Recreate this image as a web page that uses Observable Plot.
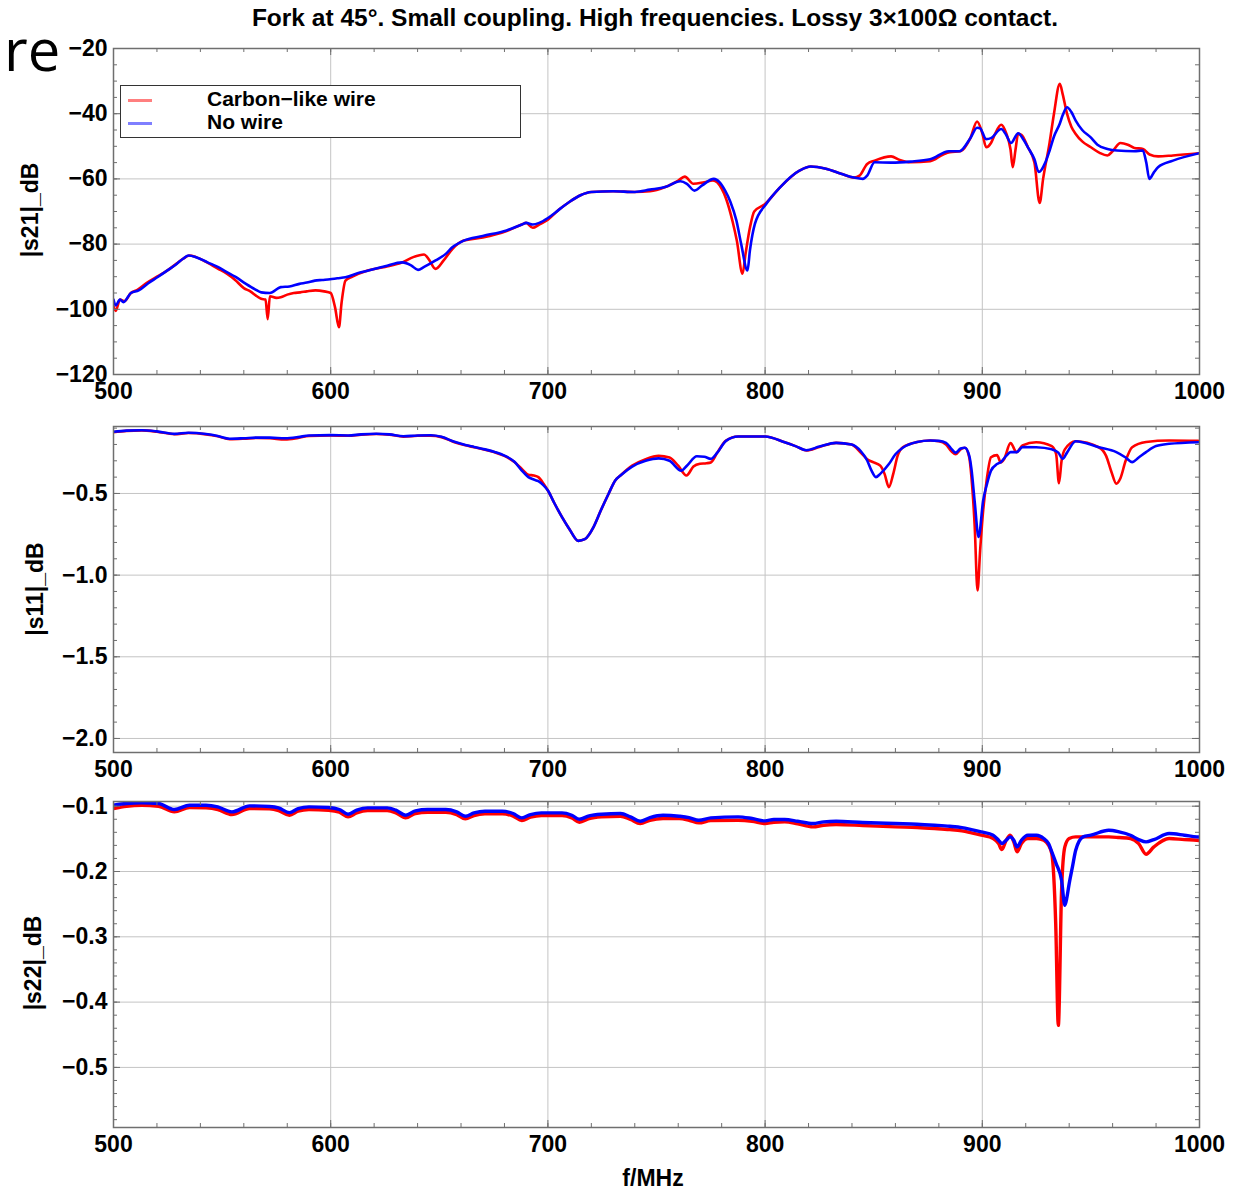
<!DOCTYPE html>
<html><head><meta charset="utf-8">
<script src="https://cdn.jsdelivr.net/npm/d3@7"></script>
<script src="https://cdn.jsdelivr.net/npm/@observablehq/plot@0.6"></script>
<style>
body{margin:0;background:#fff;}
#wrap{position:relative;width:1235px;height:1190px;overflow:hidden;background:#fff;font-family:"Liberation Sans",Arial,sans-serif;}
.abs{position:absolute;white-space:nowrap;}
svg{position:absolute;left:0;}
</style></head><body>
<div id="wrap"></div>
<script>
// ---------- DATA ----------
const title = "Fork at 45°. Small coupling. High frequencies. Lossy 3×100Ω contact.";
const seriesNames = ["Carbon\u2212like wire", "No wire"];
const seriesColors = ["#ff0000", "#0000ff"];
const xTicks = [500, 600, 700, 800, 900, 1000];
const s21Ticks = [-120, -100, -80, -60, -40, -20];
const s11Ticks = [-2.0, -1.5, -1.0, -0.5];
const s22Ticks = [-0.5, -0.4, -0.3, -0.2, -0.1];
const yLabels = ["|s21|_dB", "|s11|_dB", "|s22|_dB"];
const xLabel = "f/MHz";

// |s21| (dB) — [f MHz, value]
const s21Carbon = [[500,-99],[501,-100.5],[503,-97],[505,-97.5],[508,-95],[511,-94],[515,-92],[520,-90],[525,-88],[529,-86],[532,-84.5],[535,-83.5],[538,-84],[543,-85.6],[548,-87.5],[552,-89],[556,-91],[560,-93.5],[563,-94.5],[566,-96],[568,-96.8],[570,-97],[571,-103],[572,-96],[575,-96.5],[577,-96.3],[580,-95.5],[583,-95],[586,-94.8],[589,-94.5],[593,-94.2],[597,-94.5],[600,-95],[602,-99.4],[603.8,-105.5],[605,-98],[606.8,-91.2],[610,-90],[617,-88.1],[625,-87],[633,-85.6],[638,-84],[643,-83.2],[645,-84.5],[648.3,-87.6],[652,-85],[656,-81.5],[661,-79],[670,-78],[681,-76],[688,-74],[690,-73.5],[693,-75],[696,-74],[700,-72.5],[705,-69.5],[710,-67],[715,-65],[720,-64],[730,-63.8],[740,-64],[747,-63.8],[754,-62.5],[760,-60.5],[763,-59.3],[767,-61.5],[772,-61],[776,-60.5],[780,-63],[782,-66],[785,-73],[787,-79],[789.6,-89.1],[791,-83],[793,-75],[795,-70],[800,-67.7],[807,-62.5],[816,-57.4],[821,-56.2],[828,-56.9],[835,-58.4],[841,-59.6],[843.5,-59],[847,-55.4],[850.4,-54.4],[858,-53.1],[862,-54.2],[867,-54.9],[876,-54.6],[882,-52.5],[885,-51.8],[890,-51.5],[894.5,-47.5],[897.6,-42.4],[900,-46],[901.8,-50.3],[904,-49],[906,-46],[908.7,-43.4],[911,-46],[913,-51],[914,-56.4],[915.3,-51],[916.5,-46.2],[918,-46.5],[921,-50.3],[924,-55],[926.4,-67.4],[928,-60],[931,-48.8],[933,-40],[935.7,-30.8],[937,-34],[939,-40],[941,-44],[943,-46.2],[946,-48.5],[950,-50.3],[954,-52],[957.6,-52.8],[960,-51.5],[963.6,-49],[967,-49.5],[970,-50.5],[974,-50.8],[977,-52.5],[981,-53.1],[987.8,-52.8],[1000,-52.1]];
const s21NoWire = [[500,-97],[501,-98.8],[503,-97],[504.6,-97.8],[508,-95],[511.6,-94.2],[516,-92],[520.4,-90.1],[525,-88],[529.2,-86],[532,-84.5],[534.5,-83.5],[538,-84],[543.3,-85.6],[548,-87],[552.2,-88.6],[556,-90],[561,-92.2],[565,-93.8],[568,-94.8],[572,-95],[577,-93.2],[581,-93],[585.6,-92.2],[589,-91.8],[592.7,-91.2],[596,-91],[599.7,-90.8],[603,-90.5],[606.8,-90.2],[612,-89],[617.4,-88.1],[625,-86.8],[633,-85.6],[637,-86.5],[640.2,-87.9],[643,-87],[648.3,-85],[653,-83],[656,-81],[661,-79],[670,-77.5],[681,-75.8],[688,-74],[690,-73.5],[693,-74],[696,-73.5],[700,-72],[705,-69.5],[710,-67],[715,-65],[720,-64],[730,-63.8],[740,-64],[747,-63.3],[754,-62.5],[761,-60.7],[764,-61.5],[767.5,-63.6],[771,-62],[776.4,-60],[779,-61],[781.6,-63.6],[784,-67],[786.8,-72.8],[789,-80],[791.9,-88.1],[793,-82],[795.3,-73.8],[800.5,-67.7],[807,-62.5],[816,-57.4],[821,-56.2],[828,-56.9],[835,-58.4],[841,-59.6],[845,-60],[847,-59],[850.4,-54.9],[858,-55],[867,-54.7],[876,-54],[884.6,-51.5],[889.5,-51.5],[894.5,-47.5],[897.6,-44.3],[899,-44.5],[901.8,-47.8],[904,-47.5],[908.7,-44.7],[911,-46.5],[913.2,-49],[916.5,-46],[919,-48],[921,-50.3],[924,-54],[926,-57.9],[929,-55],[931,-51.3],[933,-47],[935.7,-43],[937,-40.5],[939,-38],[941,-39.5],[943,-42.1],[946,-45],[949.8,-47.2],[953,-49.5],[957.6,-50.8],[962,-51.3],[970,-51.5],[973.9,-51.3],[975.5,-55],[976.9,-60],[979,-58],[980.9,-56.4],[987.8,-54.4],[1000,-52.1]];

// |s11| (dB)
const s11Carbon = [[500,-0.125],[506,-0.117],[513,-0.114],[520,-0.122],[528,-0.137],[534.5,-0.13],[542.6,-0.138],[548,-0.15],[553.5,-0.168],[560,-0.165],[566,-0.16],[572,-0.162],[579,-0.17],[585,-0.16],[590,-0.148],[600,-0.145],[608,-0.147],[614,-0.14],[621,-0.136],[627,-0.14],[633.5,-0.152],[640,-0.147],[646,-0.146],[651,-0.155],[657,-0.186],[662,-0.205],[666,-0.217],[671,-0.232],[675.5,-0.248],[680,-0.27],[684.6,-0.308],[688,-0.35],[691,-0.385],[693.5,-0.39],[695.6,-0.40],[698,-0.44],[700,-0.482],[703,-0.56],[706.5,-0.645],[710,-0.72],[714,-0.79],[717,-0.78],[721,-0.706],[724.5,-0.6],[728,-0.5],[731,-0.42],[733.4,-0.39],[738.8,-0.33],[745,-0.29],[751,-0.27],[756,-0.28],[760,-0.33],[763.8,-0.39],[767,-0.335],[770,-0.318],[773,-0.315],[775,-0.31],[778,-0.25],[782,-0.176],[787.6,-0.151],[800,-0.151],[809,-0.186],[814,-0.21],[819,-0.237],[825,-0.215],[832.7,-0.19],[839.8,-0.2],[844,-0.25],[847,-0.29],[850,-0.31],[853,-0.33],[855,-0.38],[857,-0.461],[859,-0.38],[861,-0.27],[863.4,-0.217],[870,-0.185],[876,-0.176],[880,-0.18],[883.3,-0.2],[886,-0.245],[887.7,-0.26],[890,-0.23],[892,-0.22],[894,-0.28],[895,-0.4],[896.5,-0.7],[897.8,-1.094],[899,-0.85],[900.4,-0.604],[902,-0.42],[904,-0.278],[906.8,-0.265],[908.5,-0.31],[910,-0.29],[913,-0.192],[915.8,-0.247],[918.5,-0.206],[924.8,-0.186],[932,-0.21],[934,-0.26],[935.3,-0.437],[936.5,-0.3],[938,-0.23],[943,-0.18],[953.6,-0.217],[957,-0.27],[959.5,-0.37],[961.7,-0.44],[963.5,-0.41],[966,-0.3],[969,-0.217],[975.4,-0.185],[986,-0.176],[999.5,-0.178]];
const s11NoWire = [[500,-0.122],[506,-0.115],[513,-0.113],[520,-0.12],[528,-0.135],[534.5,-0.128],[542.6,-0.136],[548,-0.148],[553.5,-0.165],[560,-0.162],[566,-0.158],[572,-0.158],[579,-0.162],[585,-0.155],[590,-0.145],[600,-0.143],[608,-0.145],[614,-0.138],[621,-0.134],[627,-0.138],[633.5,-0.15],[640,-0.145],[646,-0.144],[651,-0.153],[657,-0.184],[662,-0.203],[666,-0.215],[671,-0.23],[675.5,-0.246],[680,-0.268],[684.6,-0.306],[688,-0.36],[691,-0.40],[693.5,-0.415],[695.6,-0.425],[698,-0.45],[700,-0.482],[703,-0.56],[706.5,-0.645],[710,-0.72],[714,-0.79],[717,-0.78],[721,-0.706],[724.5,-0.6],[728,-0.5],[731,-0.42],[733.4,-0.39],[738.8,-0.335],[745,-0.3],[751,-0.285],[756,-0.3],[761.4,-0.36],[764,-0.33],[768.6,-0.272],[772,-0.275],[775,-0.288],[778,-0.25],[782,-0.178],[787.6,-0.151],[800,-0.151],[809,-0.186],[814,-0.21],[819,-0.235],[825,-0.213],[832.7,-0.19],[839.8,-0.2],[844,-0.24],[847,-0.298],[849,-0.36],[851,-0.40],[853,-0.38],[857,-0.32],[860,-0.26],[863.4,-0.22],[870,-0.185],[876,-0.176],[880,-0.178],[883.3,-0.19],[886,-0.23],[887.7,-0.25],[890,-0.225],[892,-0.22],[894,-0.27],[895,-0.35],[896.5,-0.55],[898.3,-0.767],[900.4,-0.543],[902,-0.45],[904,-0.36],[906.8,-0.32],[908.5,-0.308],[911,-0.27],[913,-0.247],[915.8,-0.247],[918.5,-0.216],[924.8,-0.217],[932,-0.23],[935,-0.25],[937,-0.288],[939,-0.25],[943,-0.18],[953.6,-0.217],[961.7,-0.247],[966,-0.28],[969,-0.308],[972,-0.28],[975.4,-0.247],[980,-0.21],[986,-0.196],[999.5,-0.186]];

// |s22| (dB)
const s22Carbon = [[500,-0.1036],[506,-0.1],[513,-0.0985],[520.7,-0.1],[528,-0.1087],[535,-0.102],[542.6,-0.1026],[548,-0.1051],[554.5,-0.1128],[562.7,-0.1036],[571.8,-0.1041],[576,-0.1067],[581,-0.1138],[585,-0.1077],[590,-0.1051],[599,-0.1061],[604,-0.1092],[608,-0.1163],[612,-0.1102],[617,-0.1067],[626,-0.1067],[630,-0.1102],[634.5,-0.1179],[639,-0.1112],[644.6,-0.1092],[653,-0.1092],[658,-0.1128],[662,-0.1194],[666,-0.1143],[671,-0.1118],[679,-0.1118],[684,-0.1153],[688,-0.122],[692,-0.1169],[697,-0.1143],[706.5,-0.1143],[711,-0.1179],[714.5,-0.1245],[719,-0.1189],[724.7,-0.1163],[733.4,-0.1153],[738,-0.1204],[742.5,-0.1266],[747,-0.1215],[753,-0.1189],[760.5,-0.1189],[765,-0.1215],[769.5,-0.1256],[775,-0.122],[787.6,-0.1215],[794,-0.123],[800,-0.1266],[804,-0.1245],[809,-0.124],[815,-0.1271],[822,-0.1317],[827,-0.1291],[832.7,-0.1281],[845,-0.1296],[860,-0.1317],[870,-0.1327],[878,-0.1342],[885,-0.1358],[890.6,-0.1378],[895,-0.1409],[899.5,-0.1444],[905,-0.1495],[907.5,-0.1572],[909,-0.1664],[911,-0.1521],[912.8,-0.1444],[914.5,-0.1547],[916,-0.17],[918,-0.1572],[921,-0.1495],[925,-0.1495],[928.3,-0.1521],[930.5,-0.1598],[932,-0.1726],[933.8,-0.2798],[935,-0.4356],[936.5,-0.2287],[938,-0.1623],[940,-0.1495],[943,-0.147],[946.4,-0.147],[950,-0.147],[958.2,-0.147],[963,-0.148],[968.2,-0.1495],[972,-0.1572],[975.4,-0.1736],[979,-0.1623],[986,-0.1495],[993,-0.1511],[998.8,-0.1521],[1000,-0.1525]];
const s22NoWire = [[500,-0.0985],[506,-0.0959],[513,-0.0949],[520.7,-0.0959],[528,-0.1051],[535,-0.0985],[542.6,-0.0985],[548,-0.101],[554.5,-0.1087],[562.7,-0.0995],[571.8,-0.1005],[576,-0.1026],[581,-0.1098],[585,-0.1036],[590,-0.101],[599,-0.102],[604,-0.1051],[608,-0.1123],[612,-0.1061],[617,-0.1026],[626,-0.1026],[630,-0.1061],[634.5,-0.1138],[639,-0.1072],[644.6,-0.1051],[653,-0.1051],[658,-0.1087],[662,-0.1153],[666,-0.1102],[671,-0.1077],[679,-0.1077],[684,-0.1112],[688,-0.1179],[692,-0.1128],[697,-0.1102],[706.5,-0.1102],[711,-0.1138],[714.5,-0.1199],[719,-0.1148],[724.7,-0.1123],[733.4,-0.1112],[738,-0.1163],[742.5,-0.123],[747,-0.1174],[753,-0.1138],[760.5,-0.1153],[765,-0.1174],[769.5,-0.1215],[775,-0.1179],[787.6,-0.1163],[794,-0.1189],[800,-0.1225],[804,-0.1204],[809,-0.1204],[815,-0.123],[822,-0.1266],[827,-0.124],[832.7,-0.123],[845,-0.125],[860,-0.1266],[870,-0.1276],[878,-0.1291],[885,-0.1307],[890.6,-0.1327],[895,-0.1358],[899.5,-0.1393],[905,-0.1444],[907.5,-0.1521],[909,-0.1572],[911,-0.1521],[912.8,-0.147],[914.5,-0.1521],[916,-0.1623],[918,-0.1521],[921,-0.1444],[925,-0.1444],[928.3,-0.1495],[930.5,-0.1572],[932,-0.17],[934,-0.1879],[936.5,-0.2134],[938,-0.2517],[939,-0.239],[940,-0.2185],[941.5,-0.193],[943,-0.1675],[946.4,-0.147],[950,-0.1444],[958.2,-0.1368],[963,-0.1393],[968.2,-0.1444],[972,-0.1511],[975.4,-0.1547],[979,-0.1511],[986,-0.1419],[993,-0.1444],[998.8,-0.147],[1000,-0.1472]];

// ---------- LAYOUT ----------
const W = 1235, ML = 113, MR = 36;
const frameColor = "#6f6f6f", gridColor = "#c4c4c4";
const wrap = document.getElementById("wrap");

function range(a, b, s) { const out = []; for (let v = a; v <= b + s / 1000; v += s) out.push(+v.toFixed(6)); return out; }

function panel({top, height, mt, mb, yDomain, yMajor, yMinor, yFmt, red, blue, sw}) {
  const innerH = height - mt - mb, innerW = W - ML - MR;
  const xMinor = range(500, 1000, 20);
  const tickStyle = {stroke: frameColor, strokeWidth: 1};
  const lineOpts = {x: d => d[0], y: d => d[1], strokeWidth: sw, curve: "monotone-x", strokeLinejoin: "round", clip: true};
  const p = Plot.plot({
    width: W, height, marginLeft: ML, marginRight: MR, marginTop: mt, marginBottom: mb,
    style: {fontFamily: "'Liberation Sans', Arial, sans-serif", fontWeight: "bold", fontSize: "23px", background: "transparent", overflow: "visible"},
    x: {domain: [500, 1000]},
    y: {domain: yDomain},
    marks: [
      Plot.ruleX(xTicks.slice(1, -1), {stroke: gridColor, strokeWidth: 1}),
      Plot.ruleY(yMajor.filter(v => v > yDomain[0] && v < yDomain[1]), {stroke: gridColor, strokeWidth: 1}),
      Plot.line(red, {...lineOpts, stroke: seriesColors[0]}),
      Plot.line(blue, {...lineOpts, stroke: seriesColors[1]}),
      // inward ticks on all four sides
      Plot.ruleX(xMinor, {...tickStyle, insetTop: innerH - 4}),
      Plot.ruleX(xTicks, {...tickStyle, insetTop: innerH - 7}),
      Plot.ruleX(xMinor, {...tickStyle, insetBottom: innerH - 4}),
      Plot.ruleX(xTicks, {...tickStyle, insetBottom: innerH - 7}),
      Plot.ruleY(yMinor, {...tickStyle, insetRight: innerW - 4}),
      Plot.ruleY(yMajor, {...tickStyle, insetRight: innerW - 7}),
      Plot.ruleY(yMinor, {...tickStyle, insetLeft: innerW - 4}),
      Plot.ruleY(yMajor, {...tickStyle, insetLeft: innerW - 7}),
      Plot.frame({stroke: frameColor, strokeWidth: 1.5}),
      Plot.axisX(xTicks, {tickSize: 0, tickPadding: 8, tickFormat: d3.format("d"), label: null}),
      Plot.axisY(yMajor, {tickSize: 0, tickPadding: 6, tickFormat: yFmt, label: null})
    ]
  });
  p.style.top = top + "px";
  wrap.appendChild(p);
}

panel({top: 0, height: 414, mt: 48, mb: 40, yDomain: [-120, -20], yMajor: s21Ticks, yMinor: range(-120, -20, 5), yFmt: d3.format("d"), red: s21Carbon, blue: s21NoWire, sw: 2.6});
panel({top: 414, height: 378, mt: 12, mb: 40, yDomain: [-2.086, -0.09], yMajor: s11Ticks, yMinor: range(-2.0, -0.1, 0.1), yFmt: d3.format(".1f"), red: s11Carbon, blue: s11NoWire, sw: 2.6});
panel({top: 792, height: 398, mt: 9, mb: 63, yDomain: [-0.592, -0.0928], yMajor: s22Ticks, yMinor: range(-0.58, -0.1, 0.02), yFmt: d3.format(".1f"), red: s22Carbon, blue: s22NoWire, sw: 3.4});

// ---------- TEXT ----------
function addDiv(html, css) { const d = document.createElement("div"); d.className = "abs"; d.innerHTML = html; Object.assign(d.style, css); wrap.appendChild(d); return d; }
addDiv(title, {left: "655px", top: "6px", transform: "translateX(-50%)", fontSize: "24.5px", fontWeight: "bold", lineHeight: "1"});
addDiv("re", {left: "4px", top: "20px", fontSize: "58px", fontFamily: "'Open Sans', sans-serif", lineHeight: "1"});
const labelCenters = [[30, 210], [35, 589], [33, 963]];
yLabels.forEach((t, i) => addDiv(t, {left: labelCenters[i][0] + "px", top: labelCenters[i][1] + "px", fontSize: "23px", fontWeight: "bold", lineHeight: "1", transform: "translate(-50%,-50%) rotate(-90deg)"}));
addDiv(xLabel, {left: "653px", top: "1178px", fontSize: "23px", fontWeight: "bold", lineHeight: "1", transform: "translate(-50%,-50%)"});

// legend
const leg = addDiv("", {left: "120px", top: "85px", width: "399px", height: "51px", border: "1.5px solid #333", background: "#fff"});
seriesNames.forEach((n, i) => {
  const y = 14 + i * 23;
  const sw = document.createElement("div");
  Object.assign(sw.style, {position: "absolute", left: "7px", top: (y - 1) + "px", width: "24px", height: "3px", background: seriesColors[i], opacity: "0.5"});
  leg.appendChild(sw);
  const tx = document.createElement("div");
  Object.assign(tx.style, {position: "absolute", left: "86px", top: (y - 13) + "px", fontSize: "21px", fontWeight: "bold", lineHeight: "24px"});
  tx.textContent = n;
  leg.appendChild(tx);
});
</script>
</body></html>
